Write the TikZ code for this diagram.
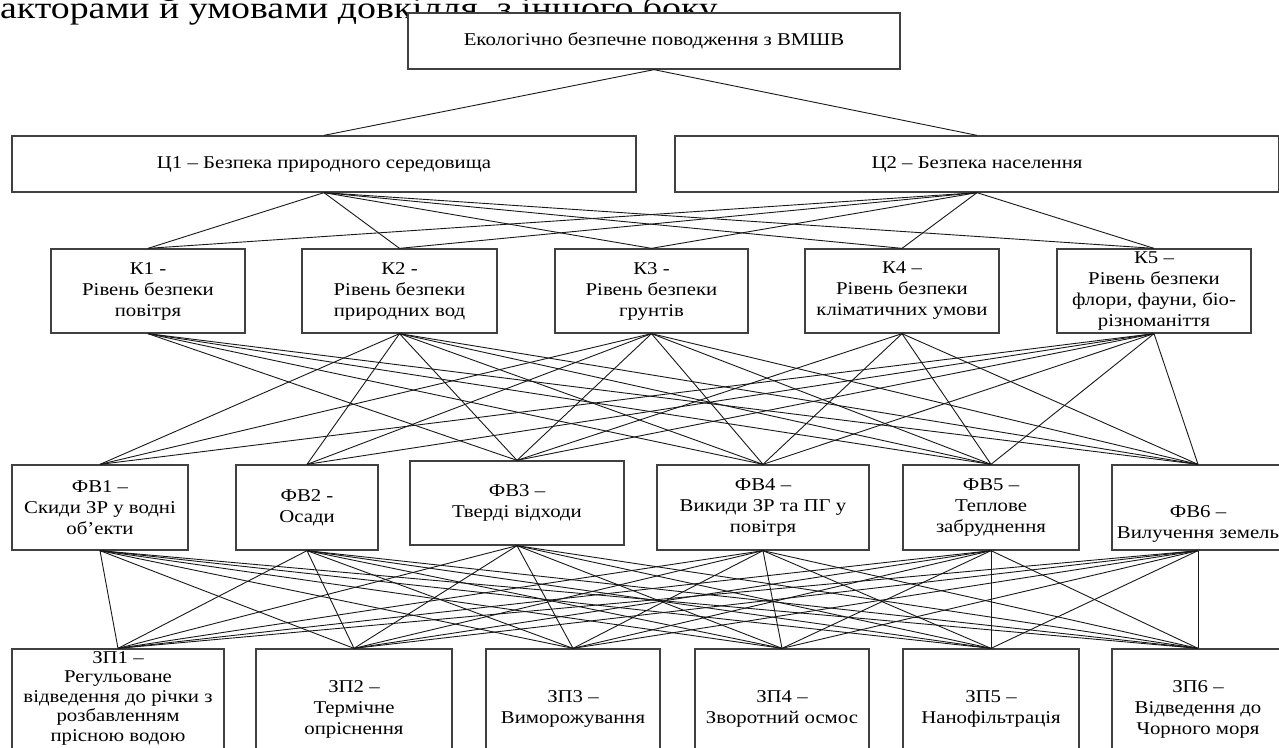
\documentclass[tikz,border=0pt]{standalone}
\usepackage{fontspec}
\setmainfont{Liberation Serif}[FakeStretch=1.155]
\newfontfamily\hdrfont{Liberation Serif}[FakeStretch=1.22]
\begin{document}
\begin{tikzpicture}[x=1pt,y=-1pt,
  box/.style={draw=black!75, line width=1.3pt, fill=white, inner sep=0pt, align=center,
              font=\fontsize{18}{21}\selectfont},
  link/.style={draw=black!90, line width=0.9pt},
  hdrtext/.style={anchor=base west, inner sep=0pt, font=\hdrfont\fontsize{31}{32}\selectfont}]
\useasboundingbox (0,0) rectangle (1279,747);
\clip (0,0) rectangle (1279,747);
\fill[white] (0,0) rectangle (1279,747);

\node[hdrtext] (hdr) at (0,18) {акторами й умовами довкілля, з іншого боку.};

% level 0
\node[box, minimum width=492, minimum height=56] (top) at (654,41) {Екологічно безпечне поводження з ВМШВ};
% level 1
\node[box, minimum width=624, minimum height=56] (c1) at (324,164) {Ц1 – Безпека природного середовища};
\node[box, minimum width=604, minimum height=56] (c2) at (977,164) {Ц2 – Безпека населення};
% level 2
\node[box, minimum width=194, minimum height=84] (k1) at (148,291) {К1 -\\Рівень безпеки\\повітря};
\node[box, minimum width=195, minimum height=84] (k2) at (399.5,291) {К2 -\\Рівень безпеки\\природних вод};
\node[box, minimum width=193, minimum height=84] (k3) at (651.5,291) {К3 -\\Рівень безпеки\\грунтів};
\node[box, minimum width=194, minimum height=84] (k4) at (902,291) {К4 –\\Рівень безпеки\\кліматичних умови};
\node[box, minimum width=194, minimum height=84] (k5) at (1154,291) {К5 –\\Рівень безпеки\\флори, фауни, біо-\\різноманіття};
% level 3
\node[box, minimum width=176, minimum height=85] (fb1) at (100,507.5) {ФВ1 –\\Скиди ЗР у водні\\об’екти};
\node[box, minimum width=142, minimum height=85] (fb2) at (307,507.5) {ФВ2 -\\Осади};
\node[box, minimum width=214, minimum height=84] (fb3) at (517,503) {ФВ3 –\\Тверді відходи};
\node[box, minimum width=212, minimum height=85] (fb4) at (763,507.5) {ФВ4 –\\Викиди ЗР та ПГ у\\повітря};
\node[box, minimum width=176, minimum height=85] (fb5) at (991,507.5) {ФВ5 –\\Теплове\\забруднення};
\node[box, minimum width=172, minimum height=85] (fb6) at (1198,507.5) {\strut\\[9pt]ФВ6 –\\Вилучення земель};
% level 4
\node[box, minimum width=212, minimum height=120, font=\fontsize{18}{19.5}\selectfont] (zp1) at (118,709) {ЗП1 –\\Регульоване\\відведення до річки з\\розбавленням\\прісною водою\\\strut};
\node[box, minimum width=196, minimum height=120] (zp2) at (354,709) {ЗП2 –\\Термічне\\опріснення};
\node[box, minimum width=174, minimum height=120] (zp3) at (573,709) {ЗП3 –\\Виморожування};
\node[box, minimum width=174, minimum height=120] (zp4) at (782,709) {ЗП4 –\\Зворотний осмос};
\node[box, minimum width=176, minimum height=120] (zp5) at (991,709) {ЗП5 –\\Нанофільтрація};
\node[box, minimum width=172, minimum height=120] (zp6) at (1198,709) {ЗП6 –\\Відведення до\\Чорного моря};

% connectors
\draw[link] (top.south) -- (c1.north);
\draw[link] (top.south) -- (c2.north);
\foreach \c in {c1,c2}{
  \foreach \k in {k1,k2,k3,k4,k5}{
    \draw[link] (\c.south) -- (\k.north);
  }
}
\foreach \k/\fs in {k1/{fb3,fb4,fb5,fb6},
                    k2/{fb1,fb2,fb3,fb4,fb5,fb6},
                    k3/{fb1,fb2,fb3,fb4,fb5,fb6},
                    k4/{fb3,fb4,fb5,fb6},
                    k5/{fb1,fb2,fb3,fb4,fb5,fb6}}{
  \foreach \f in \fs{
    \draw[link] (\k.south) -- (\f.north);
  }
}
\foreach \f in {fb1,fb2,fb3,fb4,fb5,fb6}{
  \foreach \z in {zp1,zp2,zp3,zp4,zp5,zp6}{
    \draw[link] (\f.south) -- (\z.north);
  }
}
\end{tikzpicture}
\end{document}
